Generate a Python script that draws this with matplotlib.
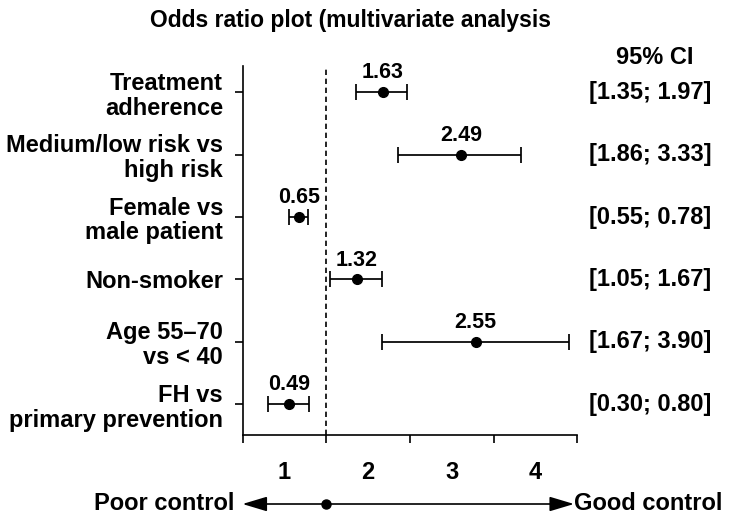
import matplotlib.pyplot as plt
import matplotlib.transforms as mtransforms

plt.rcParams['font.family'] = ['Liberation Sans', 'DejaVu Sans']
plt.rcParams['font.weight'] = 'bold'

categories = ["Treatment\nadherence", "Medium/low risk vs\nhigh risk", "Female vs\nmale patient",
              "Non-smoker", "Age 55\u201370\nvs < 40", "FH vs\nprimary prevention"]
odds_ratio = [1.63, 2.49, 0.65, 1.32, 2.55, 0.49]
ci_low = [1.35, 1.86, 0.55, 1.05, 1.67, 0.30]
ci_high = [1.97, 3.33, 0.78, 1.67, 3.90, 0.80]
# where the dots sit in the original figure (not exactly at the OR value)
marker_pos = [1.675, 2.61, 0.675, 1.365, 2.785, 0.555]
tick_labels = ["1", "2", "3", "4"]

fig = plt.figure(figsize=(7.32, 5.26), dpi=100)
ax = fig.add_axes([0.3313, 0.173, 0.4574, 0.7015])

n = len(categories)
ypos = list(range(n, 0, -1))

xerr = [[m - lo for m, lo in zip(marker_pos, ci_low)],
        [hi - m for m, hi in zip(marker_pos, ci_high)]]
ax.errorbar(marker_pos, ypos, xerr=xerr, fmt='o', color='black', markersize=7,
            elinewidth=1.25, capsize=5.5, capthick=1.25)

for m, y, v in zip(marker_pos, ypos, odds_ratio):
    ax.annotate(f"{v:.2f}", (m, y), xytext=(0, 10), textcoords='offset points',
                ha='center', va='baseline', fontsize=15.5, fontweight='bold')

ax.axvline(1, color='black', lw=1.2, linestyle=(0, (3.2, 2.2)))

ax.set_xlim(0, 4)
ax.set_ylim(0.508, 6.42)
ax.set_yticks(ypos)
ax.set_yticklabels(categories, fontsize=17, fontweight='bold', linespacing=1.1)
ax.set_xticks([0, 1, 2, 3, 4])
ax.set_xticklabels([])
ax.set_xticks([0.5, 1.5, 2.5, 3.5], minor=True)
ax.set_xticklabels(tick_labels, minor=True, fontsize=17, fontweight='bold')
ax.tick_params(axis='x', which='major', direction='out', length=6, width=1.2)
ax.tick_params(axis='x', which='minor', length=0, pad=19)
ax.tick_params(axis='y', direction='out', length=6, width=1.2, pad=8)

for side in ['top', 'right']:
    ax.spines[side].set_visible(False)
for side in ['left', 'bottom']:
    ax.spines[side].set_linewidth(1.2)

# CI column on the right
trans = mtransforms.blended_transform_factory(ax.transAxes, ax.transData)
for y, lo, hi in zip(ypos, ci_low, ci_high):
    ax.text(1.217, y, f"[{lo:.2f}; {hi:.2f}]", transform=trans, ha='center', va='center',
            fontsize=17, fontweight='bold', clip_on=False)
fig.text(655 / 732, 1 - 57 / 526, "95% CI", ha='center', va='center', fontsize=17, fontweight='bold')

fig.text(350 / 732, 1 - 20 / 526, "Odds ratio plot (multivariate analysis", ha='center', va='center',
         fontsize=16.5, fontweight='bold')

# arrow under the axis
xt = ax.get_xaxis_transform()
ya = -0.187
ax.annotate('', xy=(3.96, ya), xytext=(0, ya), xycoords=xt, textcoords=xt,
            arrowprops=dict(arrowstyle='<|-|>,head_length=1.5,head_width=0.45', mutation_scale=10,
                            color='black', lw=1.2, shrinkA=0, shrinkB=0),
            annotation_clip=False)
ax.plot([1], [ya], 'o', color='black', markersize=6.5, transform=xt, clip_on=False)
fig.text(234 / 732, 1 - 504 / 526, "Poor control", ha='right', va='center', fontsize=17, fontweight='bold')
fig.text(574 / 732, 1 - 504 / 526, "Good control", ha='left', va='center', fontsize=17, fontweight='bold')

fig.savefig('out.png', dpi=100)
